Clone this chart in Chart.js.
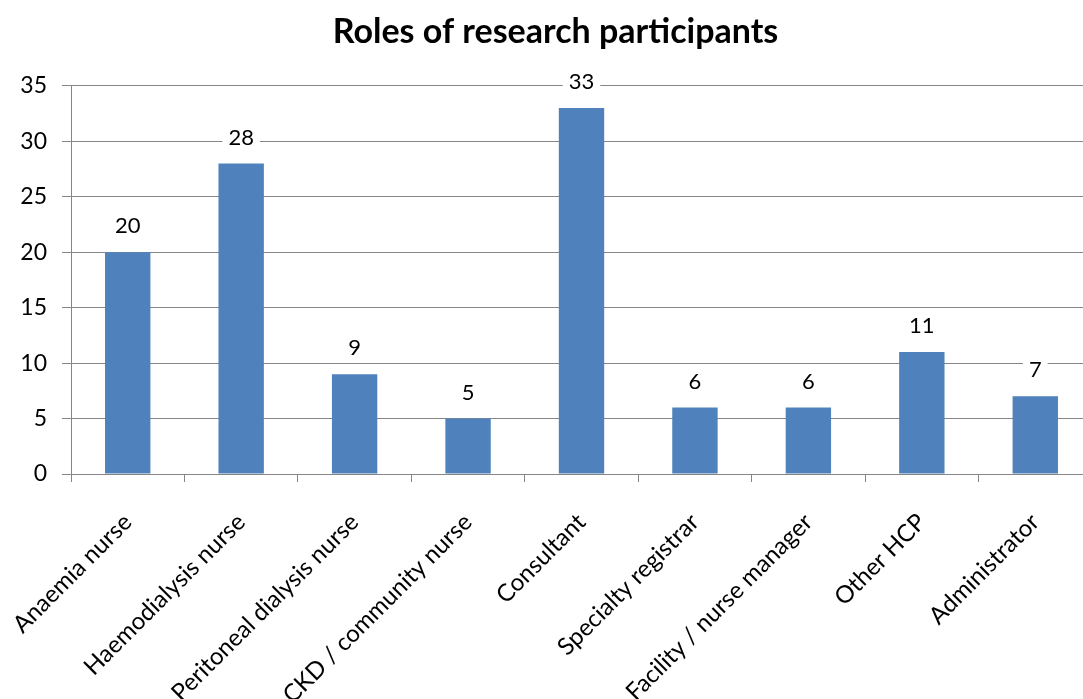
<!DOCTYPE html>
<html>
<head>
<meta charset="utf-8">
<script src="https://cdn.jsdelivr.net/npm/chart.js@4"></script>
<style>
  html, body { margin: 0; padding: 0; background: #ffffff; overflow: hidden; }
  #wrap { width: 1111px; height: 699px; }
</style>
</head>
<body>
<div id="wrap"><canvas id="rolesChart" width="1111" height="699"></canvas></div>
<script>
// ======================
// Datos
// ======================
const roles = [
  'Anaemia nurse',
  'Haemodialysis nurse',
  'Peritoneal dialysis nurse',
  'CKD / community nurse',
  'Consultant',
  'Specialty registrar',
  'Facility / nurse manager',
  'Other HCP',
  'Administrator'
];
const participants = [20, 28, 9, 5, 33, 6, 6, 11, 7];
const yTicks = [0, 5, 10, 15, 20, 25, 30, 35];

const FONT = 'Lato, "Open Sans", sans-serif';
const GRID = '#868686';

document.addEventListener("DOMContentLoaded", () => {
  const ctx = document.getElementById('rolesChart').getContext('2d');

  // ======================
  // Etiquetas encima de cada barra
  // ======================
  const barLabels = {
    id: 'barLabels',
    afterDatasetsDraw(chart) {
      const c = chart.ctx;
      const meta = chart.getDatasetMeta(0);
      c.save();
      c.font = '22px ' + FONT;
      c.textAlign = 'center';
      c.textBaseline = 'middle';
      meta.data.forEach((bar, i) => {
        const txt = String(chart.data.datasets[0].data[i]);
        const y = bar.y - 26;
        const w = c.measureText(txt).width + 12;
        c.fillStyle = '#ffffff';
        c.fillRect(bar.x - w / 2, y - 13, w, 26);
        c.fillStyle = '#000000';
        c.fillText(txt, bar.x, y);
      });
      c.restore();
    }
  };

  const data = {
    labels: roles,
    datasets: [{
      label: 'Participants',
      data: participants,
      backgroundColor: '#4f81bd',
      borderWidth: 0,
      barPercentage: 0.4,
      categoryPercentage: 1.0
    }]
  };

  const options = {
    responsive: false,
    animation: false,
    layout: { padding: 0 },
    plugins: {
      legend: { display: false },
      tooltip: { enabled: false },
      title: {
        display: true,
        text: 'Roles of research participants',
        color: '#000000',
        font: { family: FONT, size: 34, weight: 'bold', lineHeight: 1.2 },
        padding: { top: 12, bottom: 33 }
      }
    },
    scales: {
      x: {
        grid: {
          display: true,
          drawOnChartArea: false,
          drawTicks: true,
          tickLength: 8,
          offset: true,
          color: GRID
        },
        border: { display: true, color: GRID, width: 1 },
        ticks: {
          color: '#000000',
          font: { family: FONT, size: 24 },
          minRotation: 45,
          maxRotation: 45,
          padding: 26,
          autoSkip: false
        },
        afterFit: (scale) => {
          scale.height = 225;
          // la primera etiqueta puede salirse por la izquierda, como en el original
          scale.paddingLeft = 0;
          scale.paddingRight = 0;
        }
      },
      y: {
        min: 0,
        max: 35,
        afterBuildTicks: (scale) => { scale.ticks = yTicks.map(v => ({ value: v })); },
        grid: { color: GRID, tickLength: 9 },
        border: { display: true, color: GRID, width: 1 },
        ticks: {
          color: '#000000',
          font: { family: FONT, size: 23 },
          padding: 15
        },
        afterFit: (scale) => { scale.width = 71; }
      },
      // eje vacío a la derecha, solo para centrar el título como en el original
      y2: {
        position: 'right',
        display: true,
        grid: { display: false },
        border: { display: false },
        ticks: { display: false },
        afterFit: (scale) => { scale.width = 19; }
      }
    }
  };

  new Chart(ctx, {
    type: 'bar',
    data,
    options,
    plugins: [barLabels]
  });
});
</script>
</body>
</html>
